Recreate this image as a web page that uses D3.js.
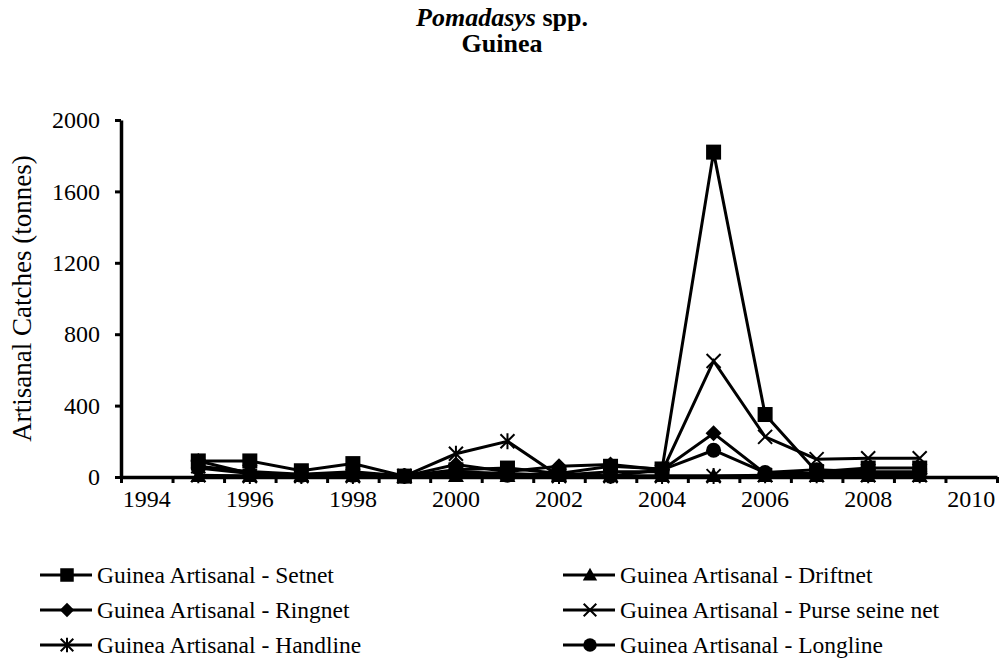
<!DOCTYPE html>
<html>
<head>
<meta charset="utf-8">
<script src="https://cdn.jsdelivr.net/npm/d3@7"></script>
<style>
	body { margin: 0; background: #fff; }
</style>
</head>
<body>
<svg id="chart" width="1003" height="671"></svg>
<script>
// data
const years = [1995, 1996, 1997, 1998, 1999, 2000, 2001, 2002, 2003, 2004, 2005, 2006, 2007, 2008, 2009];
const setnet = [90, 90, 35, 75, 5, 40, 50, 20, 60, 45, 1820, 350, 30, 50, 50];
const driftnet = [5, 5, 5, 5, 2, 5, 5, 5, 5, 5, 5, 5, 5, 5, 5];
const ringnet = [90, 20, 10, 20, 5, 70, 30, 60, 70, 40, 245, 20, 20, 20, 20];
const purseSeine = [60, 30, 15, 30, 5, 30, 20, 10, 30, 30, 650, 225, 100, 105, 105];
const handline = [10, 5, 5, 5, 5, 130, 200, 5, 5, 5, 5, 10, 10, 10, 10];
const longline = [50, 20, 10, 10, 5, 20, 10, 20, 5, 40, 150, 25, 40, 30, 30];
const yTicks = [0, 400, 800, 1200, 1600, 2000];
const xLabels = [1994, 1996, 1998, 2000, 2002, 2004, 2006, 2008, 2010];

const series = [
	{ name: "Guinea Artisanal - Setnet", values: setnet, marker: "square" },
	{ name: "Guinea Artisanal - Driftnet", values: driftnet, marker: "triangle" },
	{ name: "Guinea Artisanal - Ringnet", values: ringnet, marker: "diamond" },
	{ name: "Guinea Artisanal - Purse seine net", values: purseSeine, marker: "x" },
	{ name: "Guinea Artisanal - Handline", values: handline, marker: "asterisk" },
	{ name: "Guinea Artisanal - Longline", values: longline, marker: "circle" },
];

const FONT = "Liberation Serif";
const svg = d3.select("#chart");
const margin = { left: 121, right: 6, top: 120, bottom: 194 };
const width = 1003, height = 671;

const x = d3.scaleLinear().domain([1993.5, 2010.5]).range([margin.left, width - margin.right]);
const y = d3.scaleLinear().domain([0, 2000]).range([height - margin.bottom, margin.top]);

// title
const title = svg.append("text").attr("x", 502).attr("y", 26)
	.attr("text-anchor", "middle").attr("font-size", 26).attr("font-weight", "bold");
title.append("tspan").attr("font-style", "italic").text("Pomadasys");
title.append("tspan").text(" spp.");
svg.append("text").attr("x", 502).attr("y", 52)
	.attr("text-anchor", "middle").attr("font-size", 26).attr("font-weight", "bold").text("Guinea");

// y axis
const yAxis = svg.append("g").attr("transform", `translate(${margin.left},0)`)
	.call(d3.axisLeft(y).tickValues(yTicks).tickFormat(d3.format("d")).tickSize(6).tickSizeOuter(0).tickPadding(15));
yAxis.select(".domain").attr("stroke-width", 3.5);
yAxis.selectAll(".tick line").attr("stroke-width", 3);
yAxis.selectAll(".tick text").attr("font-size", 24);

svg.append("text")
	.attr("transform", `translate(22,${(y(0) + y(2000)) / 2}) rotate(-90)`)
	.attr("text-anchor", "middle").attr("dy", "0.35em").attr("font-size", 27).text("Artisanal Catches (tonnes)");

// x axis: ticks between years, labels on even years
const halfYears = d3.range(1993.5, 2010.6, 1);
const xAxis = svg.append("g").attr("transform", `translate(0,${y(0)})`)
	.call(d3.axisBottom(x).tickValues(halfYears).tickSize(6).tickSizeOuter(0).tickFormat(""));
xAxis.select(".domain").attr("stroke-width", 3.5);
xAxis.selectAll(".tick line").attr("stroke-width", 3);

svg.append("g").selectAll("text").data(xLabels).join("text")
	.attr("x", d => x(d)).attr("y", y(0) + 30)
	.attr("text-anchor", "middle").attr("font-size", 24).text(d => d);

// markers
function drawMarker(g, type, cx, cy, k = 1) {
	if (type === "square") {
		const h = 7.5 * k;
		g.append("rect").attr("x", cx - h).attr("y", cy - h).attr("width", 2 * h).attr("height", 2 * h).attr("fill", "#000");
	} else if (type === "triangle") {
		g.append("path").attr("d", `M${cx},${cy - 8 * k}L${cx + 8 * k},${cy + 6 * k}L${cx - 8 * k},${cy + 6 * k}Z`).attr("fill", "#000");
	} else if (type === "diamond") {
		g.append("path").attr("d", `M${cx},${cy - 8 * k}L${cx + 8 * k},${cy}L${cx},${cy + 8 * k}L${cx - 8 * k},${cy}Z`).attr("fill", "#000");
	} else if (type === "circle") {
		g.append("circle").attr("cx", cx).attr("cy", cy).attr("r", 7.5 * k).attr("fill", "#000");
	} else if (type === "x") {
		const s = 7 * k;
		g.append("path").attr("d", `M${cx - s},${cy - s}L${cx + s},${cy + s}M${cx - s},${cy + s}L${cx + s},${cy - s}`)
			.attr("stroke", "#000").attr("stroke-width", 2);
	} else if (type === "asterisk") {
		const s = 7 * k;
		g.append("path").attr("d", `M${cx - s},${cy - s}L${cx + s},${cy + s}M${cx - s},${cy + s}L${cx + s},${cy - s}M${cx},${cy - s - 1}L${cx},${cy + s + 1}`)
			.attr("stroke", "#000").attr("stroke-width", 2);
	}
}

const line = d3.line().x((d, i) => x(years[i])).y(d => y(d));
const plot = svg.append("g");
series.forEach(s => {
	plot.append("path").attr("d", line(s.values))
		.attr("fill", "none").attr("stroke", "#000").attr("stroke-width", 3);
	const mg = plot.append("g");
	s.values.forEach((v, i) => drawMarker(mg, s.marker, x(years[i]), y(v)));
});

// legend
const legendRows = [575, 610, 645];
series.forEach((s, i) => {
	const col = i % 2, row = Math.floor(i / 2);
	const lx = col === 0 ? 40 : 563;
	const ly = legendRows[row];
	const g = svg.append("g");
	g.append("line").attr("x1", lx).attr("x2", lx + 52).attr("y1", ly).attr("y2", ly)
		.attr("stroke", "#000").attr("stroke-width", 3);
	drawMarker(g, s.marker, lx + 27, ly, 0.9);
	g.append("text").attr("x", lx + 57).attr("y", ly + 8).attr("font-size", 23.5).text(s.name);
});

// serif font on every text, set on the element itself
svg.selectAll("text").attr("font-family", FONT).style("font-family", FONT).attr("fill", "#000");
</script>
</body>
</html>
